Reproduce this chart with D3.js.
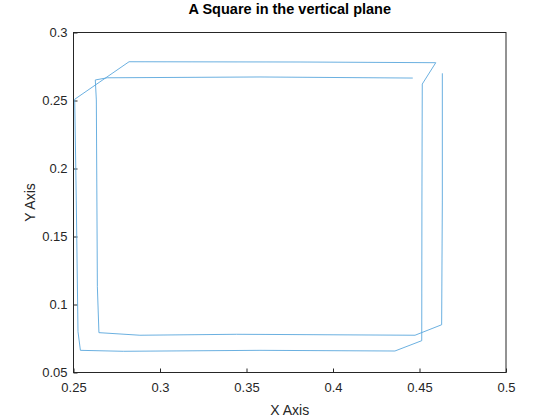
<!DOCTYPE html>
<html>
<head>
<meta charset="utf-8">
<script src="https://cdn.jsdelivr.net/npm/d3@7"></script>
<style>
  body { margin: 0; background: #fff; }
  text { font-family: "Liberation Sans", Arial, sans-serif; }
</style>
</head>
<body>
<div id="chart"></div>
<script>
// first pass: inner top, inner left, inner bottom, outer right
const pass1X = [0.4461, 0.3578, 0.2695, 0.2626, 0.2632, 0.2638, 0.2647, 0.2884, 0.3443, 0.4474, 0.4628, 0.4632, 0.4632];
const pass1Y = [0.2665, 0.2673, 0.2667, 0.2651, 0.2504, 0.1131, 0.0793, 0.0774, 0.0781, 0.0774, 0.0851, 0.1768, 0.2700];
// second pass: outer top, outer left, outer bottom, inner right (closed)
const pass2X = [0.4594, 0.3809, 0.2821, 0.2507, 0.2516, 0.2526, 0.2540, 0.2788, 0.3578, 0.4358, 0.4513, 0.4514, 0.4516, 0.4594];
const pass2Y = [0.2778, 0.2783, 0.2785, 0.2509, 0.1768, 0.0800, 0.0663, 0.0656, 0.0663, 0.0658, 0.0734, 0.1768, 0.2621, 0.2778];

const xTicks = [0.25, 0.3, 0.35, 0.4, 0.45, 0.5];
const yTicks = [0.05, 0.1, 0.15, 0.2, 0.25, 0.3];

const W = 560, H = 420;
const margin = { top: 32.5, right: 54, bottom: 47.5, left: 73.5 };
const axisColor = "#262626";

const x = d3.scaleLinear().domain([0.25, 0.5]).range([margin.left, W - margin.right]);
const y = d3.scaleLinear().domain([0.05, 0.3]).range([H - margin.bottom, margin.top]);

const svg = d3.select("#chart")
  .append("svg")
  .attr("width", W)
  .attr("height", H);

// x axis, ticks pointing inward
const gx = svg.append("g")
  .attr("transform", `translate(0,${H - margin.bottom})`)
  .call(d3.axisBottom(x).tickValues(xTicks).tickFormat(d3.format("~g")).tickSizeInner(-4).tickSizeOuter(0).tickPadding(10));

// y axis
const gy = svg.append("g")
  .attr("transform", `translate(${margin.left},0)`)
  .call(d3.axisLeft(y).tickValues(yTicks).tickFormat(d3.format("~g")).tickSizeInner(-4).tickSizeOuter(0).tickPadding(6));

[gx, gy].forEach(g => {
  g.select(".domain").remove();
  g.selectAll("line").attr("stroke", axisColor);
  g.selectAll("text").attr("fill", axisColor).style("font-size", "13px");
});

// box
svg.append("rect")
  .attr("x", x(0.25))
  .attr("y", y(0.3))
  .attr("width", x(0.5) - x(0.25))
  .attr("height", y(0.05) - y(0.3))
  .attr("fill", "none")
  .attr("stroke", axisColor)
  .attr("stroke-width", 1);

const line = d3.line()
  .x(d => x(d[0]))
  .y(d => y(d[1]));

[[pass1X, pass1Y], [pass2X, pass2Y]].forEach(([xs, ys]) => {
  svg.append("path")
    .datum(xs.map((v, i) => [v, ys[i]]))
    .attr("fill", "none")
    .attr("stroke", "#5aa7dd")
    .attr("stroke-width", 0.9)
    .attr("d", line);
});

// title
svg.append("text")
  .attr("x", (x(0.25) + x(0.5)) / 2)
  .attr("y", 14)
  .style("text-anchor", "middle")
  .style("font-size", "14.5px")
  .style("font-weight", "bold")
  .attr("fill", "#000")
  .text("A Square in the vertical plane");

svg.append("text")
  .attr("x", (x(0.25) + x(0.5)) / 2)
  .attr("y", 415)
  .style("text-anchor", "middle")
  .style("font-size", "14px")
  .attr("fill", axisColor)
  .text("X Axis");

svg.append("text")
  .attr("transform", "rotate(-90)")
  .attr("x", -(y(0.05) + y(0.3)) / 2)
  .attr("y", 35)
  .style("text-anchor", "middle")
  .style("font-size", "14px")
  .attr("fill", axisColor)
  .text("Y Axis");
</script>
</body>
</html>
